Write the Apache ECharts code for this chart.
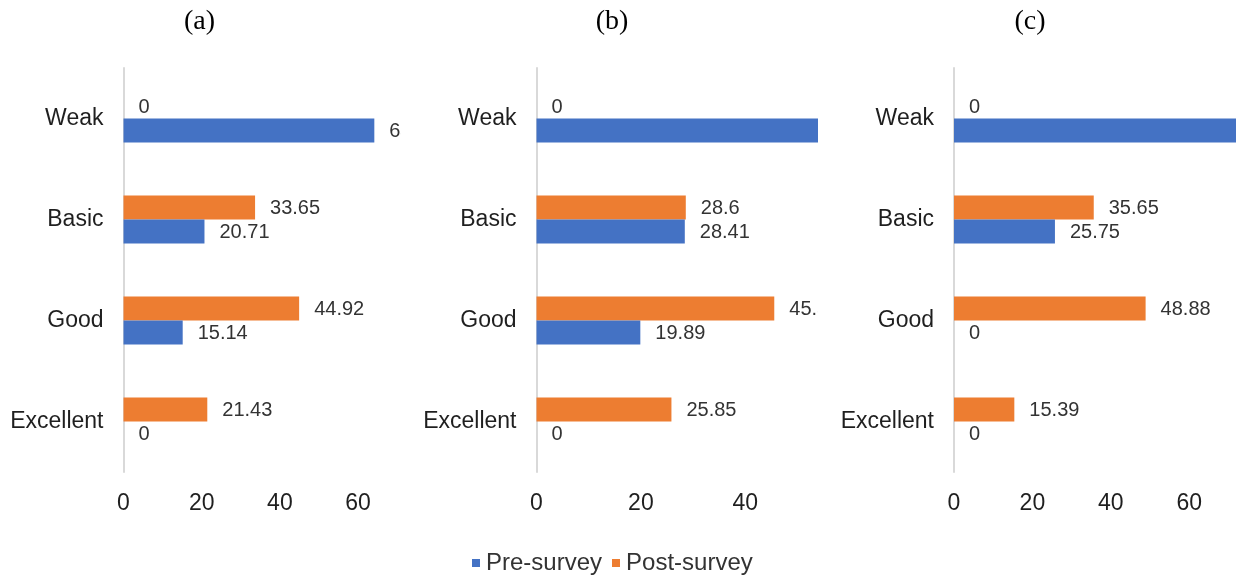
<!DOCTYPE html>
<html>
<head>
<meta charset="utf-8">
<title>Pre- and post-survey levels</title>
<script src="https://cdn.jsdelivr.net/npm/echarts@6/dist/echarts.min.js"></script>
<style>
  html, body { margin: 0; padding: 0; background: #fff; }
  #page { position: relative; width: 1236px; height: 577px; overflow: hidden; background: #fff; }
  .clip { position: absolute; top: 0; height: 577px; overflow: hidden; }
  .chart { position: absolute; left: 0; top: 0; width: 760px; height: 577px; }
</style>
</head>
<body>
<div id="page">
  <div class="clip" id="clipA"><div class="chart" id="chartA"></div></div>
  <div class="clip" id="clipB"><div class="chart" id="chartB"></div></div>
  <div class="clip" id="clipC"><div class="chart" id="chartC"></div></div>
</div>
<script>
// Level categories, listed bottom to top on the vertical axis
const categories = ['Excellent', 'Good', 'Basic', 'Weak'];
const seriesNames = ['Pre-survey', 'Post-survey'];
const panelTitles = ['(a)', '(b)', '(c)'];

// Percentages per level (Excellent, Good, Basic, Weak)
const preA  = [0, 15.14, 20.71, 64.15];
const postA = [21.43, 44.92, 33.65, 0];
const preB  = [0, 19.89, 28.41, 55];
const postB = [25.85, 45.55, 28.6, 0];
const preC  = [0, 0, 25.75, 74.25];
const postC = [15.39, 48.88, 35.65, 0];

// Axis ranges and tick step of each panel
const axisMaxA = 80, axisMaxB = 60, axisMaxC = 80;
const tickStep = 20;

const COLORS = { pre: '#4472C4', post: '#ED7D31' };
const SANS = "'Liberation Sans', Arial, sans-serif";
const SERIF = "'Liberation Serif', 'Times New Roman', serif";

// Panel layout: clip window on the page, axis origin and horizontal scale (px per unit)
const panels = [
  { clip: 'clipA', el: 'chartA', clipLeft: 0,   clipWidth: 401, axisX: 123.5, pxPerUnit: 3.91, max: axisMaxA, pre: preA, post: postA, title: panelTitles[0], titleX: 194.5, legend: false },
  { clip: 'clipB', el: 'chartB', clipLeft: 404, clipWidth: 414, axisX: 536.5, pxPerUnit: 5.22, max: axisMaxB, pre: preB, post: postB, title: panelTitles[1], titleX: 607,   legend: true },
  { clip: 'clipC', el: 'chartC', clipLeft: 820, clipWidth: 416, axisX: 954,   pxPerUnit: 3.92, max: axisMaxC, pre: preC, post: postC, title: panelTitles[2], titleX: 1025,  legend: false }
];

function buildOption(p) {
  const left = p.axisX - p.clipLeft;
  const barLabel = {
    show: true,
    position: 'right',
    distance: 15,
    offset: [0, 1],
    fontFamily: SANS,
    fontSize: 20,
    color: '#333333'
  };
  const opt = {
    animation: false,
    title: {
      text: p.title,
      left: p.titleX - p.clipLeft,
      top: 3,
      textAlign: 'center',
      textStyle: { fontFamily: SERIF, fontSize: 28, fontWeight: 'normal', color: '#000' }
    },
    grid: { left: left, top: 68, width: p.max * p.pxPerUnit, height: 404, containLabel: false },
    xAxis: {
      type: 'value',
      min: 0,
      max: p.max,
      interval: tickStep,
      axisLine: { show: false },
      axisTick: { show: false },
      splitLine: { show: false },
      axisLabel: { fontFamily: SANS, fontSize: 23, color: '#1f1f1f', margin: 20 }
    },
    yAxis: {
      type: 'category',
      data: categories,
      axisLine: { show: true, lineStyle: { color: '#d9d9d9', width: 2 } },
      axisTick: { show: false },
      splitLine: { show: false },
      axisLabel: { fontFamily: SANS, fontSize: 23, color: '#1f1f1f', margin: 20 }
    },
    // Post-survey listed first so it sits above Pre-survey in each category band
    series: [
      { name: seriesNames[1], type: 'bar', data: p.post, itemStyle: { color: COLORS.post }, barWidth: 24, barGap: '0%', label: barLabel },
      { name: seriesNames[0], type: 'bar', data: p.pre,  itemStyle: { color: COLORS.pre },  barWidth: 24, barGap: '0%', label: barLabel }
    ]
  };
  if (p.legend) {
    opt.legend = {
      data: seriesNames,
      left: 467 - p.clipLeft,
      top: 546,
      icon: 'rect',
      itemWidth: 8,
      itemHeight: 8,
      itemGap: 10,
      textStyle: { fontFamily: SANS, fontSize: 24, color: '#333333', padding: [0, 0, 0, 1] }
    };
  } else {
    opt.legend = { show: false, data: seriesNames };
  }
  return opt;
}

panels.forEach(p => {
  const clip = document.getElementById(p.clip);
  clip.style.left = p.clipLeft + 'px';
  clip.style.width = p.clipWidth + 'px';
  const chart = echarts.init(document.getElementById(p.el), null, { renderer: 'canvas' });
  chart.setOption(buildOption(p));
});
</script>
</body>
</html>
